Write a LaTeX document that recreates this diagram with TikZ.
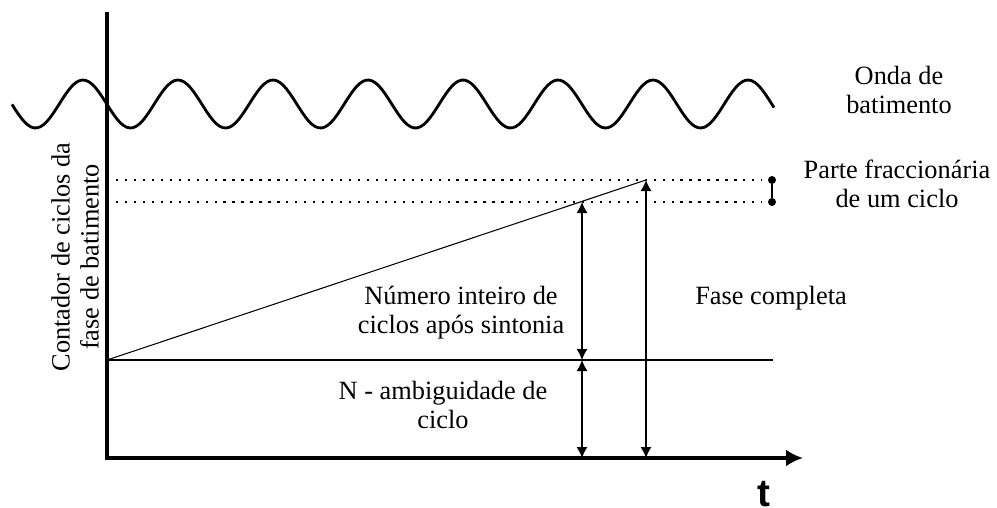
\documentclass[tikz,border=0pt]{standalone}
\usepackage{fontspec}
\setmainfont{Liberation Serif}
\newfontfamily\axisfont{Liberation Sans}
\usetikzlibrary{arrows.meta}
\begin{document}
\begin{tikzpicture}[
        x=0.02cm, y=-0.02cm,
        label text/.style={align=center, font=\fontsize{15}{16.5}\selectfont},
        axis/.style={line width=2pt, -{Latex[length=0.34cm,width=0.34cm]}},
        both/.style={line width=0.6pt, {Latex[length=0.22cm,width=0.22cm]}-{Latex[length=0.22cm,width=0.22cm]}},
        dots/.style={line width=1.3pt, dash pattern=on 1.3pt off 3.8pt},
        endpoint/.style={circle, fill, inner sep=0pt, minimum size=0.16cm}
    ]
    \useasboundingbox (0,0) rectangle (997,507);
    \coordinate (top) at (107,12);
    \coordinate (origin) at (107,458);
    \coordinate (tend) at (803,458);
    \coordinate (start) at (107,360);
    \coordinate (lineend) at (773,360);
    \coordinate (full) at (646,180);
    \coordinate (whole) at (582,202);
    \node[endpoint] (fractop) at (772,180) {};
    \node[endpoint] (fracbot) at (772,202) {};

    \draw[line width=1.6pt] plot[domain=12:774, samples=240] (\x, {104-24*cos(3.7895*(\x-83))});
    \draw[axis] (top) -- (origin) -- (tend);

    \draw[dots] (full -| origin) -- ([xshift=-0.2cm]fractop.center);
    \draw[dots] (whole -| origin) -- ([xshift=-0.2cm]fracbot.center);
    \draw[line width=0.8pt] (fractop) -- (fracbot);

    \draw[line width=0.6pt] (start) -- (full);
    \draw[line width=0.8pt] (start) -- (lineend);
    \draw[both] (whole) -- (whole |- start);
    \draw[both] (whole |- start) -- (whole |- origin);
    \draw[both] (full) -- (full |- origin);

    \node[label text] (onda) at (899,90) {Onda de\\batimento};
    \node[label text] (parte) at (897,184) {Parte fraccionária\\de um ciclo};
    \node[label text] (numero) at (461,313) {Número inteiro de\\ciclos após sintonia};
    \node[label text] (ambig) at (443,405) {N - ambiguidade de\\ciclo};
    \node[label text] (fase) at (771,298) {Fase completa};
    \node[label text, rotate=90] (contador) at (75,257) {Contador de ciclos da\\fase de batimento};
    \node[anchor=base, font=\fontsize{22}{26}\axisfont\bfseries\selectfont] (tlabel) at (764,506) {t};
\end{tikzpicture}
\end{document}
